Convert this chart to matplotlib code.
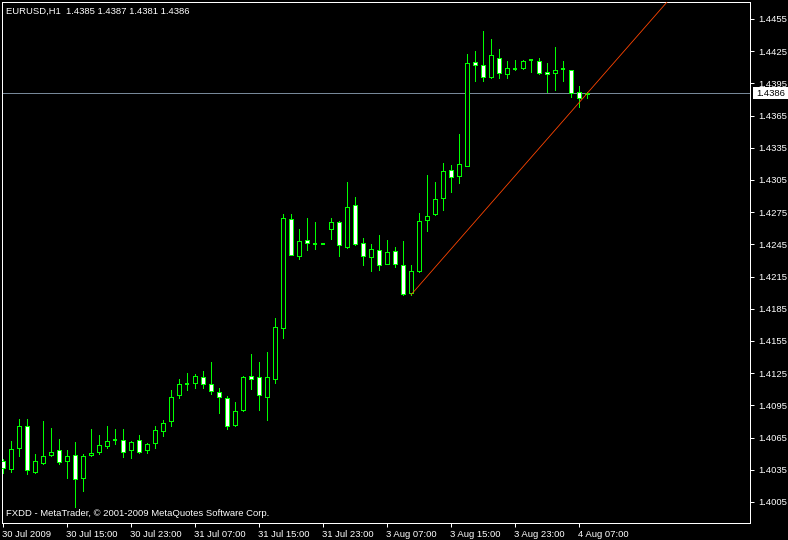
import matplotlib
matplotlib.use("Agg")
import matplotlib.pyplot as plt
from matplotlib.patches import Rectangle
from matplotlib.transforms import blended_transform_factory, offset_copy

plt.rcParams['font.family'] = ['Liberation Sans', 'DejaVu Sans']

# ---- data (EURUSD H1) ----
opens = [1.4043, 1.4036, 1.4055, 1.4076, 1.4033, 1.4041, 1.4049, 1.4053, 1.4043, 1.4049,
         1.4027, 1.4049, 1.4052, 1.4057, 1.4063, 1.4063, 1.4053, 1.4063, 1.4053, 1.4060,
         1.4071, 1.4080, 1.4105, 1.4115, 1.4116, 1.4121, 1.4115, 1.4107, 1.4102, 1.4077,
         1.4091, 1.4122, 1.4121, 1.4103, 1.4120, 1.4167, 1.4269, 1.4234, 1.4249, 1.4245,
         1.4245, 1.4259, 1.4266, 1.4243, 1.4282, 1.4246, 1.4233, 1.4240, 1.4227, 1.4239,
         1.4226, 1.4200, 1.4220, 1.4268, 1.4273, 1.4288, 1.4314, 1.4309, 1.4318, 1.4415,
         1.4412, 1.4401, 1.4419, 1.4404, 1.4408, 1.4409, 1.4417, 1.4416, 1.4406, 1.4405,
         1.4408, 1.4407, 1.4387, 1.4385]
highs = [1.4045, 1.4062, 1.4082, 1.4082, 1.4050, 1.4080, 1.4074, 1.4064, 1.4053, 1.4061,
         1.4050, 1.4073, 1.4067, 1.4076, 1.4073, 1.4073, 1.4062, 1.4067, 1.4060, 1.4076,
         1.4081, 1.4109, 1.4120, 1.4125, 1.4124, 1.4127, 1.4135, 1.4111, 1.4104, 1.4098,
         1.4122, 1.4143, 1.4135, 1.4145, 1.4176, 1.4273, 1.4273, 1.4259, 1.4270, 1.4266,
         1.4245, 1.4270, 1.4267, 1.4303, 1.4289, 1.4251, 1.4245, 1.4254, 1.4249, 1.4243,
         1.4248, 1.4226, 1.4274, 1.4310, 1.4303, 1.4321, 1.4319, 1.4348, 1.4422, 1.4425,
         1.4444, 1.4436, 1.4427, 1.4416, 1.4417, 1.4417, 1.4418, 1.4419, 1.4414, 1.4429,
         1.4416, 1.4407, 1.4393, 1.4387]
lows = [1.4032, 1.4033, 1.4048, 1.4031, 1.4032, 1.4040, 1.4048, 1.4040, 1.4027, 1.4000,
        1.4015, 1.4048, 1.4050, 1.4055, 1.4059, 1.4047, 1.4046, 1.4051, 1.4051, 1.4055,
        1.4066, 1.4076, 1.4102, 1.4109, 1.4111, 1.4111, 1.4106, 1.4088, 1.4073, 1.4076,
        1.4090, 1.4110, 1.4091, 1.4081, 1.4116, 1.4158, 1.4235, 1.4231, 1.4240, 1.4241,
        1.4245, 1.4250, 1.4234, 1.4242, 1.4244, 1.4226, 1.4220, 1.4221, 1.4227, 1.4224,
        1.4198, 1.4198, 1.4219, 1.4257, 1.4272, 1.4277, 1.4294, 1.4302, 1.4318, 1.4397,
        1.4397, 1.4400, 1.4400, 1.4400, 1.4407, 1.4408, 1.4406, 1.4404, 1.4387, 1.4389,
        1.4397, 1.4382, 1.4373, 1.4381]
closes = [1.4037, 1.4054, 1.4076, 1.4035, 1.4043, 1.4048, 1.4052, 1.4042, 1.4048, 1.4026,
          1.4048, 1.4051, 1.4058, 1.4062, 1.4063, 1.4052, 1.4061, 1.4052, 1.4059, 1.4072,
          1.4079, 1.4103, 1.4115, 1.4115, 1.4122, 1.4115, 1.4108, 1.4103, 1.4076, 1.4090,
          1.4121, 1.4120, 1.4105, 1.4121, 1.4168, 1.4270, 1.4235, 1.4248, 1.4246, 1.4245,
          1.4245, 1.4266, 1.4244, 1.4280, 1.4245, 1.4234, 1.4241, 1.4226, 1.4238, 1.4227,
          1.4199, 1.4220, 1.4267, 1.4271, 1.4287, 1.4313, 1.4308, 1.4320, 1.4414, 1.4412,
          1.4401, 1.4421, 1.4405, 1.4409, 1.4408, 1.4416, 1.4417, 1.4405, 1.4404, 1.4407,
          1.4408, 1.4386, 1.4381, 1.4386]

xtick_pos = [0, 8, 16, 24, 32, 40, 48, 56, 64, 72]
xtick_labels = ["30 Jul 2009", "30 Jul 15:00", "30 Jul 23:00", "31 Jul 07:00",
                "31 Jul 15:00", "31 Jul 23:00", "3 Aug 07:00", "3 Aug 15:00",
                "3 Aug 23:00", "4 Aug 07:00"]
ytick_labels = ["1.4005", "1.4035", "1.4065", "1.4095", "1.4125", "1.4155", "1.4185",
                "1.4215", "1.4245", "1.4275", "1.4305", "1.4335", "1.4365", "1.4395",
                "1.4425", "1.4455"]
ytick_vals = [float(s) for s in ytick_labels]

trend_x = [51, 72]
trend_y = [1.4198, 1.4377]

header = "EURUSD,H1  1.4385 1.4387 1.4381 1.4386"
footer = "FXDD - MetaTrader, \u00a9 2001-2009 MetaQuotes Software Corp."

# ---- figure ----
W, H = 788, 540
fig = plt.figure(figsize=(W / 100, H / 100), dpi=100, facecolor='black')
ax = fig.add_axes([2 / W, 17 / H, 748 / W, 521 / H])
ax.set_facecolor('black')
ax.set_xlim(-0.125, 93.375)
ax.set_ylim(1.39854, 1.44708)

px = 0.72  # one pixel in points
lime = '#00ff00'

for sp in ax.spines.values():
    sp.set_color('white')
    sp.set_linewidth(px)

# candles
for i, (o, h, l, c) in enumerate(zip(opens, highs, lows, closes)):
    ax.plot([i, i], [l, h], color=lime, lw=px, antialiased=False, zorder=2,
            solid_capstyle='butt')
    if abs(c - o) < 1e-6:
        ax.plot([i - 0.25, i + 0.25], [o, o], color=lime, lw=px * 1.5,
                antialiased=False, zorder=3, solid_capstyle='butt')
    else:
        bottom = min(o, c)
        face = 'black' if c > o else 'white'
        ax.add_patch(Rectangle((i - 0.25, bottom), 0.5, abs(c - o), facecolor=face,
                               edgecolor=lime, lw=px, antialiased=False, zorder=3))

# trend line (ray)
slope = (trend_y[1] - trend_y[0]) / (trend_x[1] - trend_x[0])
x_end = 100
ax.plot([trend_x[0], x_end], [trend_y[0], trend_y[0] + slope * (x_end - trend_x[0])],
        color='#ff4500', lw=0.6, antialiased=True, zorder=4)

# bid line
bid = closes[-1]
ax.axhline(bid, color='#778899', lw=px, zorder=1, antialiased=False)

# ticks
ax.yaxis.tick_right()
ax.set_yticks(ytick_vals)
ax.set_yticklabels(ytick_labels)
ax.set_xticks(xtick_pos)
ax.set_xticklabels(xtick_labels, ha='left')
ax.tick_params(axis='both', direction='out', length=3, width=px, color='white',
               labelcolor='white', labelsize=6.8)
ax.tick_params(axis='y', pad=3)
ax.tick_params(axis='x', pad=2)
for lab in ax.get_xticklabels():
    lab.set_transform(offset_copy(lab.get_transform(), fig=fig, x=-1, y=0, units='dots'))

# bid price box
trans = blended_transform_factory(fig.transFigure, ax.transData)
box_h = 12 / (521 / (1.44708 - 1.39854))
ax.add_patch(Rectangle((753 / W, bid - box_h / 2), 35 / W, box_h, transform=trans,
                       facecolor='white', edgecolor='none', clip_on=False, zorder=10))
ax.text(770.5 / W, bid, f"{bid:.4f}", transform=trans, ha='center', va='center',
        color='black', fontsize=6.8, zorder=11, clip_on=False)

# texts
fig.text(6 / W, 1 - 11 / H, header, color='white', fontsize=6.8, ha='left', va='center')
fig.text(6 / W, 1 - 513 / H, footer, color='white', fontsize=6.8, ha='left', va='center')

fig.savefig('out.png', dpi=100, facecolor='black')
